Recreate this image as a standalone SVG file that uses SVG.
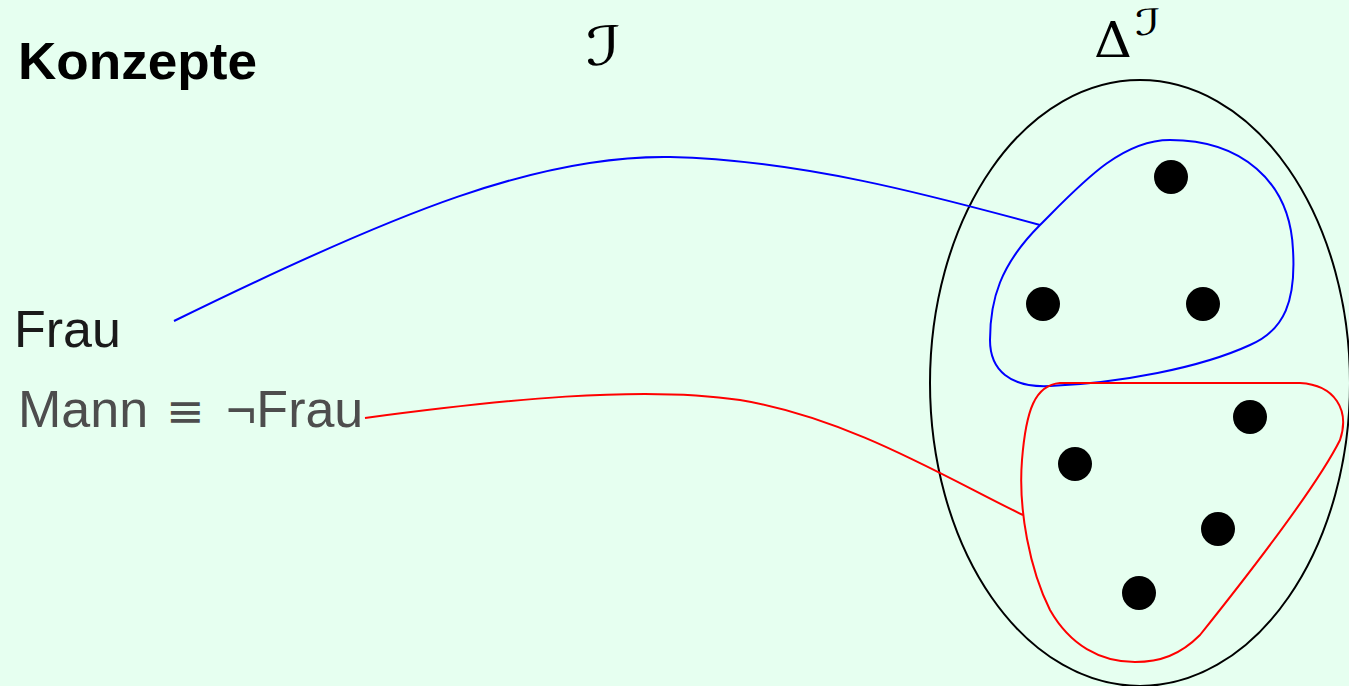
<svg xmlns="http://www.w3.org/2000/svg" width="1349" height="686" viewBox="0 0 1349 686">
<style>
.lbl{font-family:"Liberation Sans",Arial,sans-serif;font-size:52px}
.math{font-family:"DejaVu Sans","Noto Sans",sans-serif;font-style:oblique}
.dot{fill:#000}
.set{fill:none;stroke-width:2}
</style>
<rect width="1349" height="686" fill="#e6fff0"/>
<g id="title"><text class="lbl" x="18" y="79" font-size="53" font-weight="bold" fill="#000" textLength="239" lengthAdjust="spacingAndGlyphs">Konzepte</text></g>
<g id="interp"><text class="math" x="586" y="65" font-size="54" fill="#000" textLength="36" lengthAdjust="spacingAndGlyphs">ℐ</text></g>
<g id="domain-label"><text x="1094" y="57" font-family="'DejaVu Serif','Liberation Serif',serif" font-size="48" fill="#000" textLength="38" lengthAdjust="spacingAndGlyphs">Δ</text><text class="math" x="1135" y="35" font-size="36" fill="#000" textLength="26" lengthAdjust="spacingAndGlyphs">ℐ</text></g>
<g id="frau"><text class="lbl" x="14" y="347" fill="#1a1a1a">Frau</text></g>
<g id="mann"><text class="lbl" y="427" fill="#4d4d4d"><tspan x="18">Mann</tspan><tspan x="166" font-family="'DejaVu Sans',sans-serif" font-size="46">≡</tspan><tspan x="226">¬Frau</tspan></text></g>
<g id="domain"><ellipse cx="1140" cy="383" rx="210" ry="303" fill="none" stroke="#000" stroke-width="2"/></g>
<g id="frau-set"><path class="set" stroke="#0000ff" d="M1040,225 C1080,185 1120,140 1170,140 C1240,140 1290,180 1293,250 C1296,300 1285,330 1250,345 C1200,368 1120,383 1050,386 C1010,388 990,370 990,340 C990,300 1000,265 1040,225 Z"/></g>
<g id="mann-set"><path class="set" stroke="#ff0000" d="M1060,383 L1300,383 C1335,385 1350,410 1340,440 C1320,480 1260,560 1200,635 C1180,655 1160,662 1135,662 C1100,662 1070,645 1050,610 C1030,570 1018,510 1022,460 C1026,410 1035,385 1060,383 Z"/></g>
<g id="elements">
<circle class="dot" cx="1171" cy="177" r="17"/>
<circle class="dot" cx="1043" cy="304" r="17"/>
<circle class="dot" cx="1203" cy="304" r="17"/>
<circle class="dot" cx="1250" cy="417" r="17"/>
<circle class="dot" cx="1075" cy="464" r="17"/>
<circle class="dot" cx="1218" cy="529" r="17"/>
<circle class="dot" cx="1139" cy="593" r="17"/>
</g>
<g id="connectors" fill="none" stroke-width="2">
<path stroke="#0000ff" d="M174,321 C400,210 540,155 670,157 C800,160 930,195 1040,225"/>
<path stroke="#ff0000" d="M365,418 C500,400 640,385 740,400 C850,418 950,480 1023,515"/>
</g>
</svg>
